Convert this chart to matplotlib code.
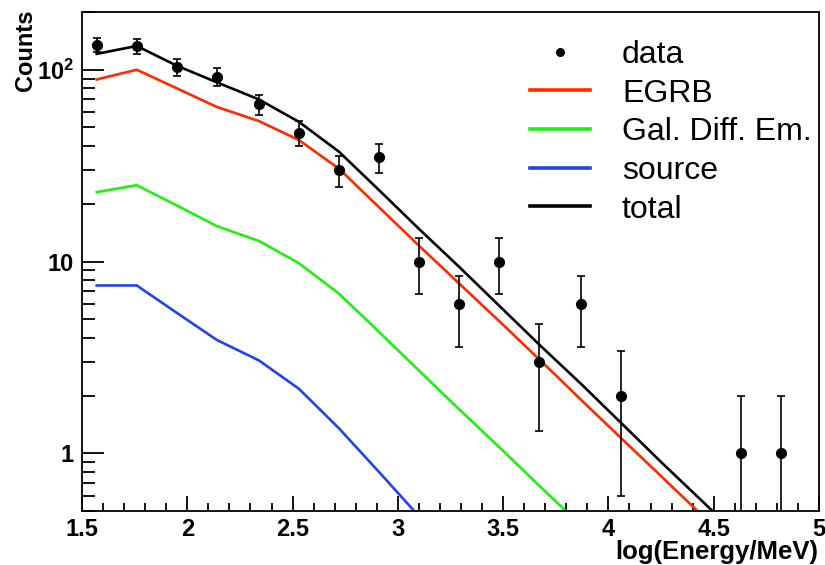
import matplotlib
matplotlib.use("Agg")
import matplotlib.pyplot as plt
from matplotlib.lines import Line2D
from matplotlib.ticker import FixedLocator, FixedFormatter, LogLocator, MultipleLocator, NullFormatter

plt.rcParams['font.family'] = ['Liberation Sans', 'DejaVu Sans']
plt.rcParams['mathtext.fontset'] = 'custom'
plt.rcParams['mathtext.rm'] = 'Liberation Sans'
plt.rcParams['mathtext.bf'] = 'Liberation Sans:bold'

# bin centres of the model curves, log(E/MeV)
energy = [1.57, 1.76, 1.95, 2.14, 2.34, 2.53, 2.72, 2.91, 3.10, 3.29,
          3.48, 3.67, 3.87, 4.06, 4.25, 4.44, 4.63, 4.82]
egrb = [89, 100, 80, 64, 54, 43, 30.5, 19.2, 12.1, 7.7,
        4.9, 3.1, 1.9, 1.2, 0.76, 0.48, 0.30, 0.19]
gal_diff = [23, 25, 19.6, 15.3, 12.8, 9.8, 6.8, 4.3, 2.7, 1.7,
            1.08, 0.68, 0.42, 0.26, 0.16, 0.10, 0.06, 0.04]
source = [7.5, 7.5, 5.4, 3.9, 3.05, 2.17, 1.35, 0.80, 0.47, 0.28,
          0.16, 0.09, 0.05, 0.03, 0.02, 0.01, 0.006, 0.004]
total = [121, 133, 105, 86, 70, 53.5, 37.4, 23.6, 14.8, 9.4,
         5.9, 3.7, 2.3, 1.44, 0.90, 0.57, 0.36, 0.23]

# measured counts
data_x = [1.57, 1.76, 1.95, 2.14, 2.34, 2.53, 2.72, 2.91, 3.10, 3.29,
          3.48, 3.67, 3.87, 4.06, 4.63, 4.82]
data_counts = [135, 133, 103, 92, 66, 47, 30, 35, 10, 6, 10, 3, 6, 2, 1, 1]
data_err = [11.6, 11.5, 10.1, 9.6, 8.1, 6.9, 5.5, 5.9, 3.2, 2.4,
            3.2, 1.7, 2.4, 1.4, 1.0, 1.0]

y_ticks = [1, 10, 100]
y_ticklabels = ['1', '10', r'$\mathbf{10^{2}}$']

fig = plt.figure(figsize=(8.25, 5.65), dpi=100)
ax = fig.add_axes([82 / 825, 1 - 511 / 565, 737 / 825, 499 / 565])

l_egrb, = ax.plot(energy, egrb, color='#ff2a00', lw=1.9)
l_gal, = ax.plot(energy, gal_diff, color='#22ee11', lw=1.9)
l_src, = ax.plot(energy, source, color='#1f45e8', lw=1.9)
l_tot, = ax.plot(energy, total, color='black', lw=1.9)
ax.errorbar(data_x, data_counts, yerr=data_err, fmt='o', color='black',
            ms=7, elinewidth=1.2, capsize=3, capthick=1.2)

ax.set_yscale('log', nonpositive='clip')
ax.set_xlim(1.5, 5)
ax.set_ylim(0.5, 200)

ax.xaxis.set_major_locator(MultipleLocator(0.5))
ax.xaxis.set_minor_locator(MultipleLocator(0.1))
ax.xaxis.set_major_formatter(plt.FuncFormatter(lambda v, p: f'{v:g}'))
ax.yaxis.set_major_locator(FixedLocator(y_ticks))
ax.yaxis.set_major_formatter(FixedFormatter(y_ticklabels))
ax.yaxis.set_minor_locator(LogLocator(base=10, subs=range(2, 10)))
ax.yaxis.set_minor_formatter(NullFormatter())

ax.tick_params(axis='both', which='both', direction='in', top=False, right=False,
               width=1.3, labelsize=17)
ax.tick_params(axis='x', which='major', length=11, pad=5)
ax.tick_params(axis='x', which='minor', length=6)
ax.tick_params(axis='y', which='major', length=16, pad=6)
ax.tick_params(axis='y', which='minor', length=9)
for lab in ax.get_xticklabels() + ax.get_yticklabels():
    lab.set_fontweight('bold')
for sp in ax.spines.values():
    sp.set_linewidth(1.3)

ax.set_xlabel('log(Energy/MeV)', fontsize=18.5, fontweight='bold', loc='right')
ax.xaxis.set_label_coords(0.9986, -0.058)
ax.set_ylabel('Counts', fontsize=17, fontweight='bold', loc='top')
ax.yaxis.set_label_coords(-0.061, 1.005)

# legend: plain dot for data, thicker strokes for the curves
dot = Line2D([], [], ls='none', marker='o', color='black', ms=5.5)
leg_lines = [Line2D([], [], color=l.get_color(), lw=2.6) for l in (l_egrb, l_gal, l_src, l_tot)]
ax.legend([dot] + leg_lines, ['data', 'EGRB', 'Gal. Diff. Em.', 'source', 'total'],
          loc='upper left', bbox_to_anchor=(530 / 825, 1 - 40 / 565),
          bbox_transform=fig.transFigure, frameon=False, fontsize=23,
          borderpad=0, borderaxespad=0, handlelength=1.88,
          handletextpad=1.0, labelspacing=0.27)

fig.savefig('out.png', dpi=100)
